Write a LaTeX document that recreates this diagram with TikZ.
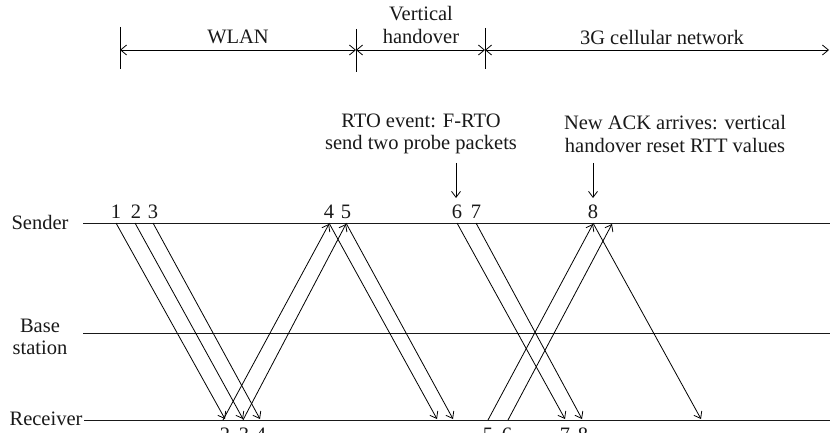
\documentclass[tikz,border=0pt]{standalone}
\usepackage{fontspec}
\setmainfont{Liberation Serif}
\usetikzlibrary{arrows.meta}
\begin{document}
\begin{tikzpicture}[x=1pt,y=-1pt,
  txt/.style={inner sep=0pt, text=black!90, font=\fontsize{20.5}{22.5}\selectfont, align=center},
  lane/.style={line width=0.9pt, black!90},
  msg/.style={line width=0.8pt, -{Straight Barb[length=6pt,width=9pt,line width=0.8pt]}},
  span/.style={line width=0.9pt, {Straight Barb[length=6pt,width=10pt,line width=0.8pt]}-{Straight Barb[length=6pt,width=10pt,line width=0.8pt]}},
  tick/.style={line width=0.9pt}]
\useasboundingbox (0,0) rectangle (830,433);

% lane labels
\node[txt] (snd) at (40,222) {Sender};
\node[txt] (bs) at (40,337) {Base\\station};
\node[txt] (rcv) at (46,419) {Receiver};

% lanes
\coordinate (sL) at (83,223); \coordinate (sR) at (830,223);
\coordinate (bL) at (83,333); \coordinate (bR) at (830,333);
\coordinate (rL) at (84,420); \coordinate (rR) at (830,420);
\draw[lane] (sL) -- (sR);
\draw[lane] (bL) -- (bR);
\draw[lane] (rL) -- (rR);

% top spans
\coordinate (t1a) at (120,27); \coordinate (t1b) at (120,69);
\coordinate (t2a) at (356,29); \coordinate (t2b) at (356,72);
\coordinate (t3a) at (485,28); \coordinate (t3b) at (485,69);
\draw[tick] (t1a) -- (t1b);
\draw[tick] (t2a) -- (t2b);
\draw[tick] (t3a) -- (t3b);
\coordinate (a1) at (120,50); \coordinate (a2) at (356,50);
\coordinate (a3) at (485,50); \coordinate (a4) at (829,50);
\draw[span] (a1) -- (a2);
\draw[span] (a2) -- (a3);
\draw[span] (a3) -- (a4);
\node[txt] (wlan) at (238,37) {WLAN};
\node[txt] (vh) at (421,25) {Vertical\\handover};
\node[txt] (g3) at (662,37) {3G cellular network};

% annotations
\node[txt] (rto) at (421,134) {RTO event: F-RTO\\send two probe packets};
\node[txt] (ack) at (675,134) {New ACK arrives: vertical\\handover reset RTT values};
\coordinate (rtoA) at (456,163); \coordinate (rtoB) at (456,198);
\coordinate (ackA) at (593,163); \coordinate (ackB) at (593,198);
\draw[msg] (rtoA) -- (rtoB);
\draw[msg] (ackA) -- (ackB);

% sender numbers
\foreach \n/\x in {1/116,2/136,3/153,4/329,5/346,6/457,7/476,8/593}
  \node[txt] (sn\n) at (\x,212) {\n};
% receiver numbers
\foreach \n/\x in {2/225,3/244,4/261,5/488,6/507,7/565,8/583}
  \node[txt] (rn\n) at (\x,435) {\n};

% message endpoints
\coordinate (S1) at (116,223); \coordinate (R1) at (225,419);
\coordinate (S2) at (135,223); \coordinate (R2) at (243,419);
\coordinate (S3) at (153,223); \coordinate (R3) at (260,419);
\coordinate (Ra) at (223,420); \coordinate (Sa) at (329,224);
\coordinate (Rb) at (243,420); \coordinate (Sb) at (346,224);
\coordinate (S4) at (329,223); \coordinate (R4) at (437,419);
\coordinate (S5) at (346,223); \coordinate (R5) at (453,419);
\coordinate (Rc) at (488,420); \coordinate (Sc) at (593,224);
\coordinate (Rd) at (508,420); \coordinate (Sd) at (612,224);
\coordinate (S6) at (457,223); \coordinate (R6) at (565,419);
\coordinate (S7) at (476,223); \coordinate (R7) at (582,419);
\coordinate (S8) at (593,223); \coordinate (R8) at (701,419);

\draw[msg] (S1) -- (R1);
\draw[msg] (S2) -- (R2);
\draw[msg] (S3) -- (R3);
\draw[msg] (Ra) -- (Sa);
\draw[msg] (Rb) -- (Sb);
\draw[msg] (S4) -- (R4);
\draw[msg] (S5) -- (R5);
\draw[msg] (Rc) -- (Sc);
\draw[msg] (Rd) -- (Sd);
\draw[msg] (S6) -- (R6);
\draw[msg] (S7) -- (R7);
\draw[msg] (S8) -- (R8);
\end{tikzpicture}
\end{document}
